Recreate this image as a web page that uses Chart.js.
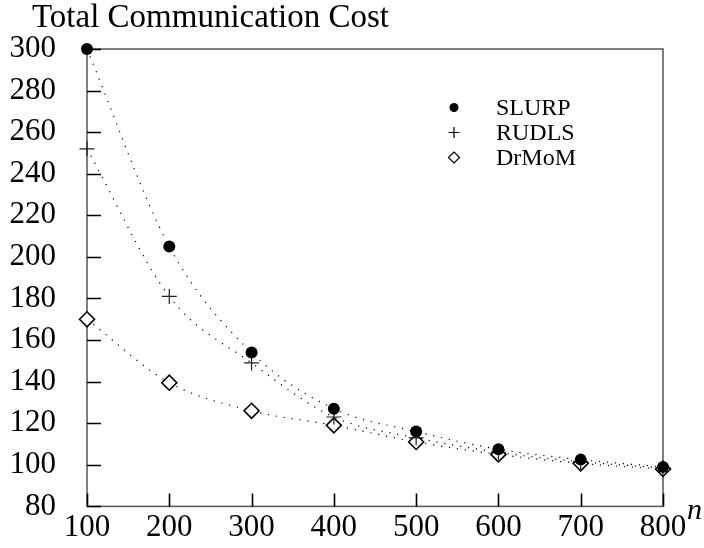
<!DOCTYPE html>
<html>
<head>
<meta charset="utf-8">
<script src="https://cdn.jsdelivr.net/npm/chart.js@4/dist/chart.umd.min.js"></script>
<style>
  body { margin: 0; background: #fff; }
  canvas { display: block; }
</style>
</head>
<body>
<canvas id="myChart" width="704" height="548"></canvas>
<script>
const SERIF = "'Liberation Serif', 'Times New Roman', serif";

const nValues = [100, 200, 300, 400, 500, 600, 700, 800];
const slurp = [300, 205, 154, 127, 116, 107.5, 102.5, 99];
const rudls = [252, 181, 149, 123, 113, 106, 101.5, 98.5];
const drmom = [170, 139.5, 126, 119, 111, 105, 100.7, 98];
const seriesNames = ['SLURP', 'RUDLS', 'DrMoM'];
const chartTitle = 'Total Communication Cost';
const xAxisLabel = 'n';

function toPoints(values){ // pair each value with its n
    return values.map((v, i) => ({x: nValues[i], y: v}));
}

function drawMarker(ctx, style, x, y, r){ // small legend markers
    ctx.save();
    ctx.strokeStyle = '#000';
    ctx.fillStyle = '#000';
    ctx.lineWidth = 1.2;
    ctx.beginPath();
    if(style === 'circle'){
        ctx.arc(x, y, r, 0, Math.PI * 2);
        ctx.fill();
    }else if(style === 'cross'){
        ctx.moveTo(x - r, y); ctx.lineTo(x + r, y);
        ctx.moveTo(x, y - r); ctx.lineTo(x, y + r);
        ctx.stroke();
    }else{
        ctx.moveTo(x, y - r); ctx.lineTo(x + r, y);
        ctx.lineTo(x, y + r); ctx.lineTo(x - r, y);
        ctx.closePath();
        ctx.fillStyle = '#fff';
        ctx.fill();
        ctx.stroke();
    }
    ctx.restore();
}

const framePlugin = {
    id: 'frame',
    beforeDatasetsDraw(chart){
        const ctx = chart.ctx;
        const a = chart.chartArea;
        const xs = chart.scales.x, ys = chart.scales.y;
        ctx.save();
        // frame
        ctx.strokeStyle = '#555';
        ctx.lineWidth = 1.5;
        ctx.strokeRect(a.left, a.top, a.right - a.left, a.bottom - a.top);
        // inward ticks
        ctx.strokeStyle = '#000';
        ctx.lineWidth = 1.6;
        ctx.beginPath();
        ys.ticks.forEach(t => {
            const py = Math.round(ys.getPixelForValue(t.value)) + 0.5;
            ctx.moveTo(a.left, py); ctx.lineTo(a.left + 14, py);
        });
        xs.ticks.forEach(t => {
            const px = Math.round(xs.getPixelForValue(t.value)) + 0.5;
            ctx.moveTo(px, a.bottom); ctx.lineTo(px, a.bottom - 13);
        });
        ctx.stroke();
        ctx.restore();
    },
    afterDraw(chart){
        const ctx = chart.ctx;
        ctx.save();
        ctx.fillStyle = '#000';
        ctx.textBaseline = 'alphabetic';
        ctx.textAlign = 'left';
        ctx.font = '33px ' + SERIF;
        ctx.fillText(chartTitle, 32, 27);
        ctx.font = 'italic 30px ' + SERIF;
        ctx.fillText(xAxisLabel, 687, 519);
        // legend, in series order
        ctx.font = '24px ' + SERIF;
        ctx.textBaseline = 'middle';
        chart.data.datasets.forEach((ds, i) => {
            const y = 107.5 + i * 25;
            drawMarker(ctx, ds.pointStyle, 454, y, ds.pointStyle === 'circle' ? 4.5 : 5.5);
            ctx.fillText(ds.label, 496, y + 1);
        });
        ctx.restore();
    }
};

const lineStyle = {
    borderColor: '#000',
    borderWidth: 1.2,
    borderDash: [1.2, 6.8],
    cubicInterpolationMode: 'monotone',
    clip: false
};

const CTX = document.getElementById('myChart').getContext('2d');
const myChart = new Chart(CTX, {
    type: 'line',
    data: {
        datasets: [ // dataset 0 is drawn on top
            Object.assign({
                label: seriesNames[0],
                data: toPoints(slurp),
                pointStyle: 'circle',
                pointRadius: 6,
                pointBackgroundColor: '#000',
                pointBorderColor: '#000',
                pointBorderWidth: 0
            }, lineStyle),
            Object.assign({
                label: seriesNames[1],
                data: toPoints(rudls),
                pointStyle: 'cross',
                pointRadius: 7.5,
                pointBorderColor: '#222',
                pointBorderWidth: 1.2
            }, lineStyle),
            Object.assign({
                label: seriesNames[2],
                data: toPoints(drmom),
                pointStyle: 'rectRot',
                pointRadius: 7.5,
                pointBackgroundColor: '#fff',
                pointBorderColor: '#000',
                pointBorderWidth: 1.6
            }, lineStyle)
        ]
    },
    options: {
        responsive: false,
        animation: false,
        layout: { padding: { left: 0, top: 49, right: 41, bottom: 0 } },
        plugins: {
            legend: { display: false },
            tooltip: { enabled: false }
        },
        scales: {
            x: {
                type: 'linear',
                min: 100,
                max: 800,
                grid: { display: false },
                border: { display: false },
                ticks: {
                    stepSize: 100,
                    padding: -5,
                    color: '#000',
                    font: { family: SERIF, size: 31 }
                },
                afterFit(scale){ scale.height = 39; }
            },
            y: {
                min: 80,
                max: 300,
                grid: { display: false },
                border: { display: false },
                ticks: {
                    stepSize: 20,
                    padding: 23,
                    color: '#000',
                    font: { family: SERIF, size: 31 }
                },
                afterFit(scale){ scale.width = 87; }
            }
        }
    },
    plugins: [framePlugin]
});
</script>
</body>
</html>
